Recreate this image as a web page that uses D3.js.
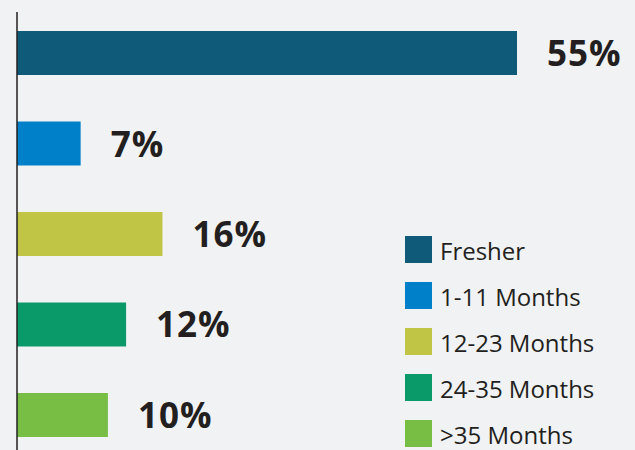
<!DOCTYPE html>
<html>
<head>
<meta charset="utf-8">
<script src="https://cdn.jsdelivr.net/npm/d3@7"></script>
<style>
  body { margin: 0; background: #f1f2f4; }
  svg { display: block; }
</style>
</head>
<body>
<div id="chart"></div>
<script>
var categories = ["Fresher", "1-11 Months", "12-23 Months", "24-35 Months", ">35 Months"];
var values = [55, 7, 16, 12, 10];
var colors = ["#0f5a78", "#0080c8", "#c0c545", "#0a9a6a", "#78be45"];

var width = 635, height = 450;

var svg = d3.select("#chart").append("svg")
    .attr("width", width)
    .attr("height", height);

svg.append("rect")
    .attr("width", width)
    .attr("height", height)
    .attr("fill", "#f1f2f4");

// scales
var x = d3.scaleLinear().domain([0, 55]).range([17, 517]);
var y = d3.scaleBand()
    .domain(categories)
    .range([-15.5, 483.5])
    .paddingInner(0.514)
    .paddingOuter(0.514);

// bars
svg.selectAll(".bar")
    .data(categories)
    .enter().append("rect")
    .attr("class", "bar")
    .attr("x", x(0))
    .attr("y", function (d) { return y(d); })
    .attr("width", function (d, i) { return x(values[i]) - x(0); })
    .attr("height", y.bandwidth())
    .attr("fill", function (d, i) { return colors[i]; });

// value labels
svg.selectAll(".label")
    .data(categories)
    .enter().append("text")
    .attr("class", "label")
    .attr("x", function (d, i) { return x(values[i]) + 30; })
    .attr("y", function (d) { return y(d) + y.bandwidth() / 2 + 13; })
    .attr("font-family", "'Open Sans', sans-serif")
    .attr("font-weight", "bold")
    .attr("font-size", "35px")
    .attr("letter-spacing", "1px")
    .attr("fill", "#231f20")
    .text(function (d, i) { return values[i] + "%"; });

// vertical axis line
svg.append("line")
    .attr("x1", x(0)).attr("x2", x(0))
    .attr("y1", 12).attr("y2", height)
    .attr("stroke", "#231f20")
    .attr("stroke-width", 1.5);

// legend
var legend = svg.append("g")
    .attr("transform", "translate(405,236)");

var item = legend.selectAll(".item")
    .data(categories)
    .enter().append("g")
    .attr("class", "item")
    .attr("transform", function (d, i) { return "translate(0," + (i * 46) + ")"; });

item.append("rect")
    .attr("width", 27)
    .attr("height", 27)
    .attr("fill", function (d, i) { return colors[i]; });

item.append("text")
    .attr("x", 35)
    .attr("y", 24)
    .attr("font-family", "'Open Sans', sans-serif")
    .attr("font-size", "24px")
    .attr("fill", "#231f20")
    .text(function (d) { return d; });
</script>
</body>
</html>
